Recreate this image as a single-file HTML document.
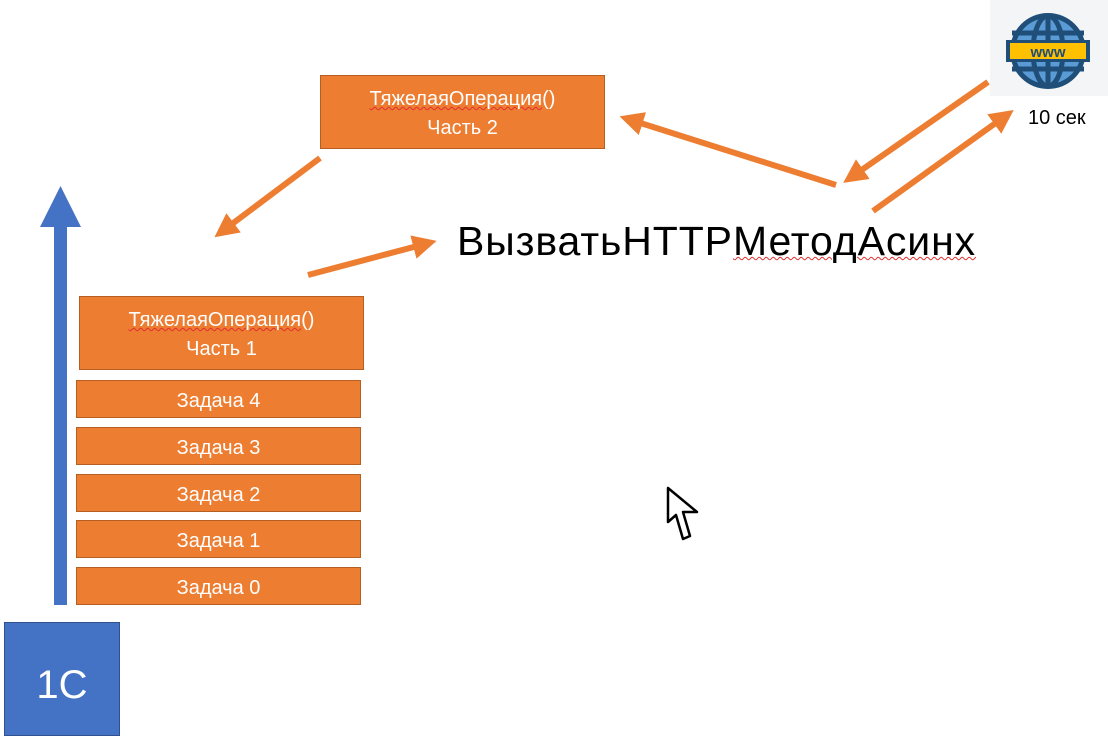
<!DOCTYPE html>
<html><head><meta charset="utf-8"><style>
body{margin:0;width:1108px;height:736px;background:#fff;position:relative;overflow:hidden;font-family:"Liberation Sans","DejaVu Sans",sans-serif}
.b{position:absolute;background:#ed7d31;border:1px solid #b65f23;color:#fff;text-align:center;box-sizing:border-box;font-size:20px}
.t{position:absolute}
</style></head><body>
<div class="b" style="left:320px;top:75px;width:285px;height:74px;padding-top:9px;line-height:29px"><span style="text-decoration:underline wavy #e03030;text-decoration-thickness:1px">ТяжелаяОперация</span>()<br>Часть 2</div>
<div class="b" style="left:79px;top:296px;width:285px;height:74px;padding-top:9px;line-height:29px"><span style="text-decoration:underline wavy #e03030;text-decoration-thickness:1px">ТяжелаяОперация</span>()<br>Часть 1</div>
<div class="b" style="left:76px;top:380px;width:285px;height:38px;line-height:40px">Задача 4</div>
<div class="b" style="left:76px;top:427px;width:285px;height:38px;line-height:40px">Задача 3</div>
<div class="b" style="left:76px;top:474px;width:285px;height:38px;line-height:40px">Задача 2</div>
<div class="b" style="left:76px;top:520px;width:285px;height:38px;line-height:40px">Задача 1</div>
<div class="b" style="left:76px;top:567px;width:285px;height:38px;line-height:40px">Задача 0</div>
<div style="position:absolute;left:4px;top:622px;width:116px;height:114px;background:#4472c4;border:1px solid #2f528f;box-sizing:border-box;color:#fff;font-size:40px;line-height:124px;text-align:center">1C</div>
<div class="t" style="left:457px;top:218px;font-size:41px;letter-spacing:0.9px;color:#000">Вызвать<span>HTTP</span><span style="text-decoration:underline wavy #e03030;text-decoration-thickness:1px">МетодАсинх</span></div>
<div style="position:absolute;left:990px;top:0;width:118px;height:96px;background:#f4f5f7"></div>
<div class="t" style="left:1028px;top:107px;font-size:20px;color:#000">10 сек</div>
<svg width="1108" height="736" style="position:absolute;left:0;top:0">
<defs><marker id="a" markerWidth="4" markerHeight="4" refX="2" refY="2" orient="auto" markerUnits="strokeWidth"><path d="M0,0 L4,2 L0,4 Z" fill="#ed7d31"/></marker></defs>
<rect x="54" y="225" width="13" height="380" fill="#4472c4"/>
<polygon points="40,227 81,227 60.5,186" fill="#4472c4"/>
<g stroke="#ed7d31" stroke-width="6" marker-end="url(#a)">
<line x1="320" y1="158" x2="224" y2="230"/>
<line x1="308" y1="275" x2="425" y2="244"/>
<line x1="836" y1="185" x2="631" y2="120"/>
<line x1="988" y1="82" x2="853" y2="176"/>
<line x1="873" y1="211" x2="1004" y2="117"/>
</g>
<g transform="translate(1048,51)">
<circle r="38" fill="#1f4e79"/>
<ellipse rx="33" ry="33" fill="#5b9bd5"/>
<g stroke="#1f4e79" stroke-width="5" fill="none">
<ellipse rx="15" ry="35"/><line x1="0" y1="-36" x2="0" y2="36"/>
<line x1="-36" y1="-18" x2="36" y2="-18"/><line x1="-36" y1="18" x2="36" y2="18"/>
</g>
<rect x="-42" y="-11" width="84" height="22" fill="#1f4e79"/>
<rect x="-38" y="-8" width="76" height="16" fill="#ffc000"/>
<text x="0" y="6" text-anchor="middle" font-size="15" font-weight="bold" fill="#1f4e79" font-family="Liberation Sans">www</text>
</g>
<path d="M668,488 L668,522 L676,515 L683,539 L690,536 L683,512 L697,512 Z" fill="#fff" stroke="#000" stroke-width="2.5" stroke-linejoin="round"/>
</svg>
</body></html>
